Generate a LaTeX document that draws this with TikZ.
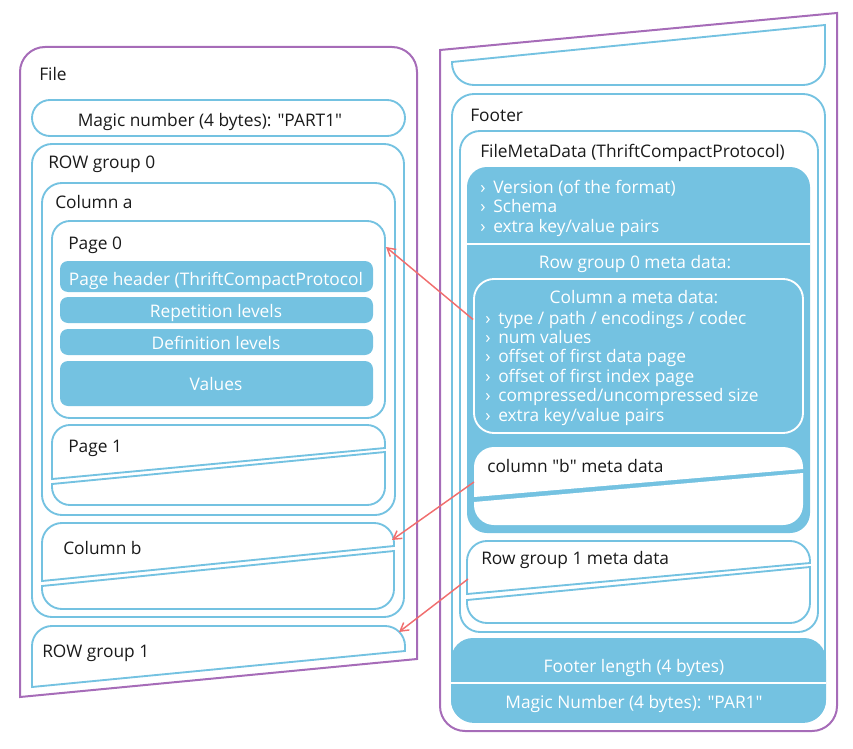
\documentclass[tikz,border=0pt]{standalone}
\usepackage{fontspec}
\setmainfont{Open Sans}
\usetikzlibrary{arrows.meta,fit}
\definecolor{sky}{RGB}{116,194,225}
\definecolor{plum}{RGB}{166,108,184}
\definecolor{coral}{RGB}{240,110,110}
\definecolor{ink}{RGB}{26,26,26}
\newcommand{\itm}{\makebox[9.75pt][l]{›}}
\newcommand{\qq}{\textquotedbl}
\begin{document}
\begin{tikzpicture}[
    x=0.75pt, y=-0.75pt,
    filebox/.style={draw=plum, line width=1.5pt},
    frame/.style={draw=sky, line width=1.4pt, inner sep=0pt},
    band/.style={fill=sky, draw=none, inner sep=0pt},
    gap/.style={draw=white, line width=1.6pt},
    lbl/.style={font=\fontsize{13}{15}\selectfont, text=ink, inner sep=0pt, anchor=base west},
    inv/.style={lbl, text=white},
    link/.style={draw=coral, line width=1.1pt, -{Straight Barb[length=6pt, width=7pt]}}
]
  \useasboundingbox (0,0) rectangle (853,749);
  % --- File: the sheet on the left ------------------------------------
  \draw[filebox] (417,659) -- (20,697) [rounded corners=18.75pt] -- (20,47) -- (417,47) [sharp corners] -- cycle;
  \node[lbl] (file) at (39,80) {File};
  \node[frame, rounded corners=13.5pt, fit={(32,100) (405,136)}] (magic) {};
  \node[lbl, anchor=base] (magictxt) at (210,127) {Magic number (4 bytes): \qq PART1\qq};
  \node[frame, rounded corners=15pt, fit={(32,144) (404,617)}] (rg0) {};
  \node[lbl] (rg0txt) at (48,168) {ROW group 0};
  \node[frame, rounded corners=15pt, fit={(42,183) (395,515)}] (cola) {};
  \node[lbl] (colatxt) at (55,208) {Column a};
  \node[frame, rounded corners=13.5pt, fit={(52,221) (385,418)}] (page0) {};
  \node[lbl] (page0txt) at (68,249) {Page 0};
  \foreach \n/\top/\bot/\base/\t in {hdr/261/292/285/Page header (ThriftCompactProtocol,
      rep/297/323/317/Repetition levels, def/329/355/349/Definition levels, val/361/406/390/Values} {
    \node[band, rounded corners=6pt, fit={(60,\top) (373,\bot)}] (\n) {};
    \node[inv, anchor=base] (\n txt) at (216,\base) {\t};
  }
  % page 1, cut by the slant
  \draw[frame] (385,448) -- (52,479) [rounded corners=13.5pt] -- (52,425) -- (385,425) [sharp corners] -- cycle;
  \draw[frame] (52,484) [rounded corners=13.5pt] -- (52,505) -- (385,505) [sharp corners] -- (385,452) -- cycle;
  \node[lbl] (page1txt) at (68,452) {Page 1};
  % column b, cut by the slant
  \draw[frame] (394,546) -- (42,581) [rounded corners=15pt] -- (42,523) -- (394,523) [sharp corners] -- cycle;
  \draw[frame] (42,586) [rounded corners=15pt] -- (42,609) -- (394,609) [sharp corners] -- (394,551) -- cycle;
  \node[lbl] (colbtxt) at (63,554) {Column b};
  % row group 1, cut by the slant
  \draw[frame] (405,651) -- (32,687) [rounded corners=15pt] -- (32,626) -- (405,626) [sharp corners] -- cycle;
  \node[lbl] (rg1txt) at (42,657) {ROW group 1};

  % --- File: the sheet on the right -----------------------------------
  \draw[filebox] (837,13) [rounded corners=18.75pt] -- (837,731) -- (440,731) [sharp corners] -- (440,50) -- cycle;
  \draw[frame] (825,25) [rounded corners=16.5pt] -- (825,85) -- (452,85) [sharp corners] -- (452,62) -- cycle;
  \node[frame, rounded corners=16.5pt, fit={(452,94) (825,722)}] (footer) {};
  \node[lbl] (footertxt) at (470,122) {Footer};
  \node[frame, rounded corners=15pt, fit={(460,131) (818,632)}] (fmd) {};
  \node[lbl] (fmdtxt) at (480,157) {FileMetaData (ThriftCompactProtocol)};
  \node[band, rounded corners=15pt, fit={(467,167) (810,533)}] (fmdbody) {};
  \draw[gap] (467,244) -- (810,244);
  \foreach \t [count=\i] in {Version (of the format), Schema, extra key/value pairs}
    \node[inv] (fm\i) at (480,{193+19.5*(\i-1)}) {\itm\t};
  \node[inv, anchor=base] (rg0md) at (635,268) {Row group 0 meta data:};
  \node[draw=white, line width=1.4pt, inner sep=0pt, rounded corners=15pt, fit={(474,279) (803,433)}] (camd) {};
  \node[inv, anchor=base] (camdtxt) at (634,303) {Column a meta data:};
  \foreach \t [count=\i] in {type / path / encodings / codec, num values, offset of first data page,
      offset of first index page, compressed/uncompressed size, extra key/value pairs}
    \node[inv] (ca\i) at (485,{324+19.4*(\i-1)}) {\itm\t};
  % column b meta data, cut by the slant
  \fill[white] (803,469) -- (474,497) [rounded corners=15pt] -- (474,447) -- (803,447) [sharp corners] -- cycle;
  \fill[white] (474,502) [rounded corners=15pt] -- (474,525) -- (803,525) [sharp corners] -- (803,473) -- cycle;
  \node[lbl] (cbmdtxt) at (487,472) {column \qq b\qq{} meta data};
  % row group 1 meta data, cut by the slant
  \draw[frame] (810,563) -- (467,594) [rounded corners=15pt] -- (467,541) -- (810,541) [sharp corners] -- cycle;
  \draw[frame] (467,600) [rounded corners=15pt] -- (467,623) -- (810,623) [sharp corners] -- (810,567) -- cycle;
  \node[lbl] (rg1mdtxt) at (481,564) {Row group 1 meta data};
  % footer length and magic number
  \node[band, rounded corners=16.5pt, fit={(451,638) (826,722)}] (tail) {};
  \draw[gap] (451,683) -- (826,683);
  \node[inv, anchor=base] (lentxt) at (634,672) {Footer length (4 bytes)};
  \node[inv, anchor=base] (endtxt) at (634,708) {Magic Number (4 bytes): \qq PAR1\qq};

  % --- links from the meta data back to the data ----------------------
  \coordinate (page0in) at (386,247);
  \coordinate (colbin) at (392,540);
  \coordinate (rg1in) at (399,632);
  \coordinate (cbmdout) at (474,482);
  \coordinate (rg1mdout) at (468,579);
  \draw[link] (camd.west |- ca1) -- (page0in);
  \draw[link] (cbmdout) -- (colbin);
  \draw[link] (rg1mdout) -- (rg1in);
\end{tikzpicture}
\end{document}
